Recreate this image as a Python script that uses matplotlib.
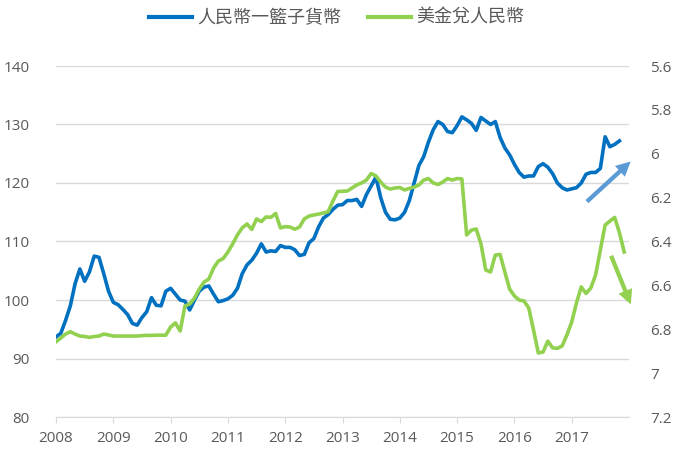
import matplotlib
matplotlib.use("Agg")
import matplotlib.pyplot as plt
import numpy as np

plt.rcParams['font.family'] = ['Open Sans', 'Noto Sans CJK TC', 'DejaVu Sans']

# monthly data, Jan 2008 onwards
basket = [93.7, 94.3, 96.5, 99.0, 102.8, 105.3, 103.2, 104.8, 107.5, 107.3, 104.5, 101.5,
          99.6, 99.2, 98.4, 97.5, 96.0, 95.7, 97.0, 98.0, 100.4, 99.1, 99.0, 101.5,
          102.0, 101.0, 100.0, 99.8, 98.3, 100.0, 101.5, 102.2, 102.4, 101.0, 99.7, 99.9,
          100.2, 100.8, 102.0, 104.5, 106.0, 106.8, 108.0, 109.6, 108.2, 108.4, 108.3, 109.3,
          109.0, 109.0, 108.6, 107.6, 107.8, 109.8, 110.5, 112.5, 114.0, 114.6, 115.5, 116.2,
          116.3, 117.0, 117.0, 117.2, 116.0, 118.0, 119.5, 121.0, 117.5, 115.0, 113.8, 113.7,
          114.0, 115.0, 117.0, 120.0, 123.0, 124.5, 127.0, 129.1, 130.5, 130.0, 128.8, 128.6,
          129.8, 131.3, 130.8, 130.2, 129.0, 131.2, 130.6, 130.0, 130.5, 127.8, 126.0, 124.8,
          123.2, 121.8, 121.0, 121.2, 121.2, 122.8, 123.3, 122.7, 121.6, 120.0, 119.2, 118.8,
          119.0, 119.2, 120.0, 121.5, 121.8, 121.8, 122.5, 127.9, 126.2, 126.6, 127.2]

usdcny = [6.857, 6.840, 6.822, 6.811, 6.822, 6.831, 6.833, 6.837, 6.833, 6.831, 6.822, 6.826,
          6.831, 6.831, 6.831, 6.831, 6.831, 6.831, 6.829, 6.828, 6.828, 6.827, 6.827, 6.827,
          6.790, 6.771, 6.808, 6.694, 6.685, 6.658, 6.617, 6.585, 6.571, 6.521, 6.489, 6.478,
          6.448, 6.411, 6.370, 6.338, 6.320, 6.345, 6.297, 6.309, 6.288, 6.290, 6.272, 6.338,
          6.332, 6.334, 6.344, 6.334, 6.297, 6.284, 6.279, 6.275, 6.270, 6.264, 6.215, 6.172,
          6.171, 6.170, 6.156, 6.142, 6.133, 6.120, 6.090, 6.101, 6.129, 6.152, 6.161, 6.156,
          6.154, 6.165, 6.158, 6.152, 6.142, 6.120, 6.113, 6.133, 6.140, 6.129, 6.113, 6.120,
          6.113, 6.115, 6.370, 6.348, 6.343, 6.411, 6.530, 6.539, 6.462, 6.459, 6.539, 6.617,
          6.648, 6.667, 6.671, 6.703, 6.803, 6.908, 6.904, 6.854, 6.885, 6.887, 6.876, 6.826,
          6.767, 6.680, 6.607, 6.637, 6.612, 6.553, 6.439, 6.325, 6.307, 6.290, 6.360, 6.448]

years = list(range(2008, 2018))
left_ticks = [80, 90, 100, 110, 120, 130, 140]
right_ticks = [5.6, 5.8, 6.0, 6.2, 6.4, 6.6, 6.8, 7.0, 7.2]
right_labels = ['5.6', '5.8', '6', '6.2', '6.4', '6.6', '6.8', '7', '7.2']

blue = '#0070C0'
green = '#92D050'
txt = '#595959'
grid = '#D9D9D9'

x_basket = 2008 + np.arange(len(basket)) / 12
x_usd = 2008 + np.arange(len(usdcny)) / 12

fig = plt.figure(figsize=(6.8, 4.61), dpi=100)
ax = fig.add_axes([56 / 680, 1 - 417 / 461, (629 - 56) / 680, (417 - 66) / 461])
ax2 = ax.twinx()

l1, = ax.plot(x_basket, basket, color=blue, lw=2.6, solid_joinstyle='round', zorder=3)
l2, = ax2.plot(x_usd, usdcny, color=green, lw=2.6, solid_joinstyle='round', zorder=3)

ax.set_xlim(2008, 2018)
ax.set_ylim(80, 140)
ax2.set_ylim(7.2, 5.6)

ax.set_yticks(left_ticks)
ax.set_xticks(years)
ax.set_xticklabels([str(y) for y in years])
ax2.set_yticks(right_ticks)
ax2.set_yticklabels(right_labels)

ax.grid(axis='y', color=grid, lw=1)
ax.set_axisbelow(True)
for a in (ax, ax2):
    for s in a.spines.values():
        s.set_visible(False)
ax.spines['bottom'].set_visible(True)
ax.spines['bottom'].set_color(grid)

ax.tick_params(axis='y', length=0, pad=19, labelsize=11, labelcolor=txt)
ax.tick_params(axis='x', length=4, color=grid, pad=6, labelsize=11, labelcolor=txt)
ax2.tick_params(axis='y', length=0, pad=15, labelsize=11, labelcolor=txt)

# trend arrows
arrow_style = 'simple,head_width=0.75,head_length=0.75,tail_width=0.22'
ax.annotate('', xy=(2018.065, 124.0), xytext=(2017.23, 116.5),
            arrowprops=dict(arrowstyle=arrow_style, mutation_scale=14,
                            color='#5B9BD5', lw=0),
            annotation_clip=False, zorder=4)
ax.annotate('', xy=(2018.05, 98.8), xytext=(2017.67, 108.0),
            arrowprops=dict(arrowstyle=arrow_style, mutation_scale=14,
                            color=green, lw=0),
            annotation_clip=False, zorder=4)

leg = fig.legend([l1, l2], ['人民幣一籃子貨幣', '美金兌人民幣'], loc='center',
                 bbox_to_anchor=(336.5 / 680, 1 - 18 / 461), ncol=2, frameon=False,
                 prop={'family': ['Noto Sans CJK TC', 'DejaVu Sans'], 'size': 13},
                 handlelength=2.4, handletextpad=0.25, columnspacing=1.5,
                 borderaxespad=0, borderpad=0)
for t in leg.get_texts():
    t.set_color(txt)
for h in leg.legend_handles:
    h.set_linewidth(3)

fig.savefig('out.png', dpi=100)
